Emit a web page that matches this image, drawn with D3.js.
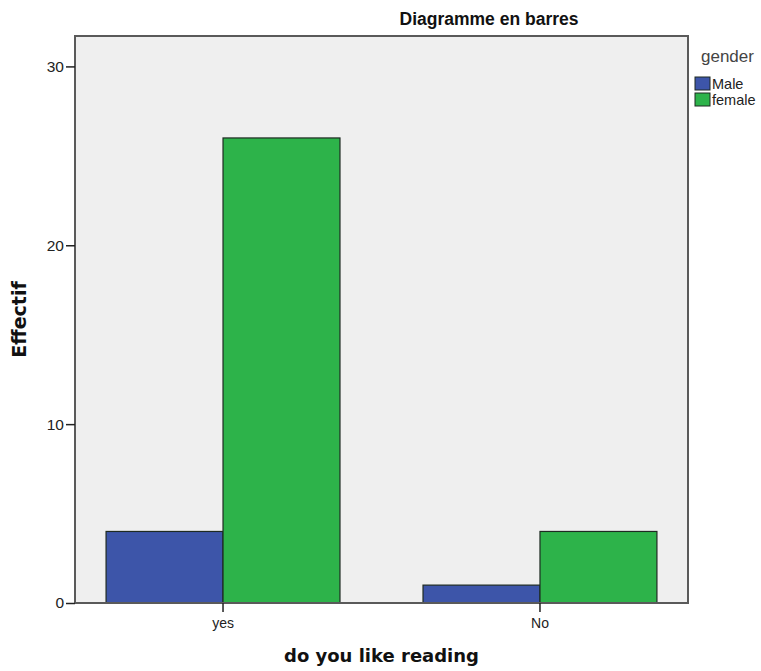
<!DOCTYPE html>
<html>
<head>
<meta charset="utf-8">
<script src="https://cdn.jsdelivr.net/npm/d3@7"></script>
<style>
  body { margin: 0; background: #fff; }
  text { font-family: "Liberation Sans", Arial, sans-serif; }
</style>
</head>
<body>
<svg id="chart" width="761" height="671"></svg>
<script>
// data
let categories = ["yes", "No"];
let genders = ["Male", "female"];
let maleCounts = [4, 1];
let femaleCounts = [26, 4];
let yTicks = [0, 10, 20, 30];
let genderColors = ["#3d55a9", "#2db34a"];

function drawBarChart(svgId) {
    let svg = d3.select(svgId);

    let left = 75, right = 688, top = 36, bottom = 603;

    let rows = [];
    categories.forEach((c, i) => {
        rows.push({cat: c, gender: genders[0], value: maleCounts[i]});
        rows.push({cat: c, gender: genders[1], value: femaleCounts[i]});
    });

    let x = d3.scaleBand()
        .domain(categories)
        .range([left, right])
        .paddingInner(0.262)
        .paddingOuter(0.098);

    let xSub = d3.scaleBand()
        .domain(genders)
        .range([0, x.bandwidth()]);

    let y = d3.scaleLinear()
        .domain([0, 31.7])
        .range([bottom, top]);

    let color = d3.scaleOrdinal().domain(genders).range(genderColors);

    // plot background
    svg.append("rect")
        .attr("x", left)
        .attr("y", top)
        .attr("width", right - left)
        .attr("height", bottom - top)
        .style("fill", "#efefef");

    // bars
    svg.append("g")
        .selectAll("rect")
        .data(rows)
        .enter().append("rect")
            .attr("x", d => x(d.cat) + xSub(d.gender))
            .attr("y", d => y(d.value))
            .attr("width", xSub.bandwidth())
            .attr("height", d => y(0) - y(d.value))
            .style("fill", d => color(d.gender))
            .style("stroke", "#1e2a22")
            .style("stroke-width", 1.2);

    // frame
    svg.append("rect")
        .attr("x", left)
        .attr("y", top)
        .attr("width", right - left)
        .attr("height", bottom - top)
        .style("fill", "none")
        .style("stroke", "#5a5a5a")
        .style("stroke-width", 2);

    // y axis
    let yAxis = svg.append("g")
        .attr("transform", "translate(" + left + ",0)")
        .call(d3.axisLeft(y).tickValues(yTicks).tickSize(9).tickPadding(2));
    yAxis.select(".domain").remove();
    yAxis.selectAll(".tick line").style("stroke", "#222").style("stroke-width", 1.5);
    yAxis.selectAll("text")
        .style("font-family", "Liberation Sans, Arial, sans-serif")
        .style("font-size", "15.5px")
        .style("fill", "#222");

    // x axis
    let xAxis = svg.append("g")
        .attr("transform", "translate(0," + bottom + ")")
        .call(d3.axisBottom(x).tickSize(9).tickPadding(6));
    xAxis.select(".domain").remove();
    xAxis.selectAll(".tick line").style("stroke", "#222").style("stroke-width", 1.5);
    xAxis.selectAll("text")
        .style("font-family", "Liberation Sans, Arial, sans-serif")
        .style("font-size", "14px")
        .style("fill", "#222");

    // title
    svg.append("text")
        .attr("x", 489)
        .attr("y", 25)
        .attr("text-anchor", "middle")
        .text("Diagramme en barres")
        .style("font-size", "17.5px")
        .style("font-weight", "bold")
        .style("fill", "#111");

    // axis labels
    svg.append("text")
        .attr("x", (left + right) / 2)
        .attr("y", 662)
        .attr("text-anchor", "middle")
        .text("do you like reading")
        .style("font-family", "DejaVu Sans, Verdana, sans-serif")
        .style("font-size", "18px")
        .style("font-weight", "bold")
        .style("fill", "#111");

    svg.append("text")
        .attr("transform", "translate(26," + ((top + bottom) / 2) + ")rotate(-90)")
        .attr("text-anchor", "middle")
        .text("Effectif")
        .style("font-family", "DejaVu Sans, Verdana, sans-serif")
        .style("font-size", "19px")
        .style("font-weight", "bold")
        .style("fill", "#111");

    // legend
    let legend = svg.append("g");
    legend.append("text")
        .attr("x", 701)
        .attr("y", 62)
        .text("gender")
        .style("font-size", "17px")
        .style("fill", "#444");
    let item = legend.selectAll("g.item")
        .data(genders)
        .enter().append("g")
            .attr("class", "item")
            .attr("transform", (d, i) => "translate(695," + (77 + i * 16) + ")");
    item.append("rect")
        .attr("width", 15)
        .attr("height", 13)
        .style("fill", d => color(d))
        .style("stroke", "#1e2a22")
        .style("stroke-width", 1);
    item.append("text")
        .attr("x", 17)
        .attr("y", 11.5)
        .text(d => d)
        .style("font-size", "14.5px")
        .style("fill", "#222");
}

drawBarChart("#chart");
</script>
</body>
</html>
